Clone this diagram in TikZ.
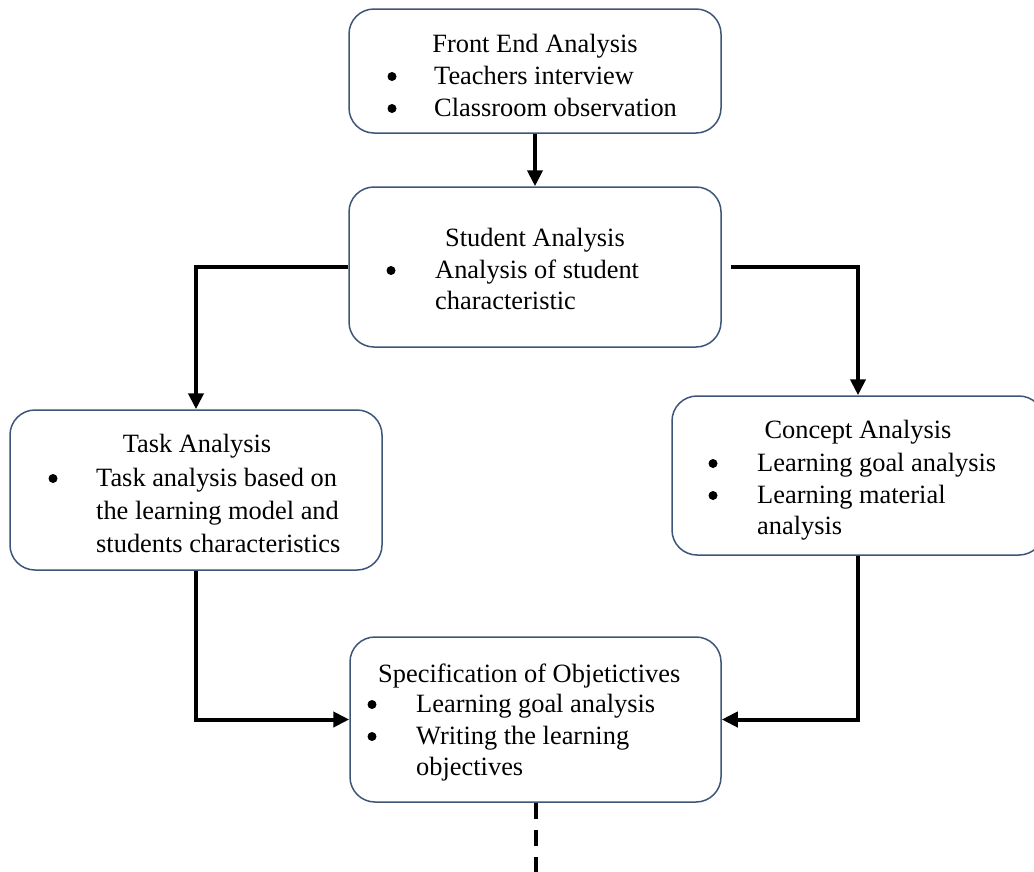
\documentclass[tikz,border=0pt]{standalone}
\usepackage{fontspec}
\setmainfont{Liberation Serif}
\usetikzlibrary{arrows.meta}
\definecolor{boxline}{RGB}{60,85,120}
\begin{document}
\begin{tikzpicture}[x=1pt,y=-1pt,
  box/.style={draw=boxline,line width=1.5pt,rounded corners=25pt,minimum width=372pt,inner sep=0pt,fill=white},
  txt/.style={inner sep=0pt,font=\fontsize{26.4}{31.7}\selectfont},
  lt/.style={txt,anchor=base west},
  ct/.style={txt,anchor=base},
  bul/.style={circle,fill=black,inner sep=0pt,minimum size=9pt,yshift=7.5pt},
  conn/.style={line width=4pt,-{Triangle[length=16pt,width=15pt]}},
  dashconn/.style={line width=4pt,dash pattern=on 16pt off 11pt},
]
\useasboundingbox (0,0) rectangle (1034,871);
% boxes
\node[box,minimum height=124pt] (fe) at (535,71) {};
\node[box,minimum height=160pt] (stu) at (535,267) {};
\node[box,minimum height=160pt] (task) at (196,490) {};
\node[box,minimum height=159pt] (con) at (858,475.5) {};
\node[box,minimum height=165pt,minimum width=371pt] (spec) at (535.5,719.5) {};
% Front End Analysis
\node[ct] (fe-t) at (535,52) {Front End Analysis};
\node[bul] (fe-b1) at (392,84) {};
\node[lt] (fe-l1) at (434,84) {Teachers interview};
\node[bul] (fe-b2) at (392,116) {};
\node[lt] (fe-l2) at (434,116) {Classroom observation};
% Student Analysis
\node[ct] (stu-t) at (535,246) {Student Analysis};
\node[bul] (stu-b1) at (391,278) {};
\node[lt] (stu-l1) at (435,278) {Analysis of student};
\node[lt] (stu-l2) at (435,309) {characteristic};
% Task Analysis
\node[ct] (task-t) at (197,452) {Task Analysis};
\node[bul] (task-b1) at (53,486) {};
\node[lt] (task-l1) at (96,486) {Task analysis based on};
\node[lt] (task-l2) at (96,519) {the learning model and};
\node[lt] (task-l3) at (96,552) {students characteristics};
% Concept Analysis
\node[ct] (con-t) at (858,438) {Concept Analysis};
\node[bul] (con-b1) at (713,471) {};
\node[lt] (con-l1) at (757,471) {Learning goal analysis};
\node[bul] (con-b2) at (713,503) {};
\node[lt] (con-l2) at (757,503) {Learning material};
\node[lt] (con-l3) at (757,534) {analysis};
% Specification
\node[lt] (spec-t) at (378,682) {Specification of Objetictives};
\node[bul] (spec-b1) at (372,712) {};
\node[lt] (spec-l1) at (416,712) {Learning goal analysis};
\node[bul] (spec-b2) at (372,744) {};
\node[lt] (spec-l2) at (416,744) {Writing the learning};
\node[lt] (spec-l3) at (416,775) {objectives};
% connectors
\draw[conn] (fe.south) -- (stu.north);
\draw[conn] (stu.west) -| (task.north);
\draw[conn] ([xshift=9pt]stu.east) -| (con.north);
\draw[conn] (task.south) |- (spec.west);
\draw[conn] (con.south) |- (spec.east);
\coordinate (end) at (535.5,875);
\draw[dashconn] (spec.south) -- (end);
\end{tikzpicture}
\end{document}
